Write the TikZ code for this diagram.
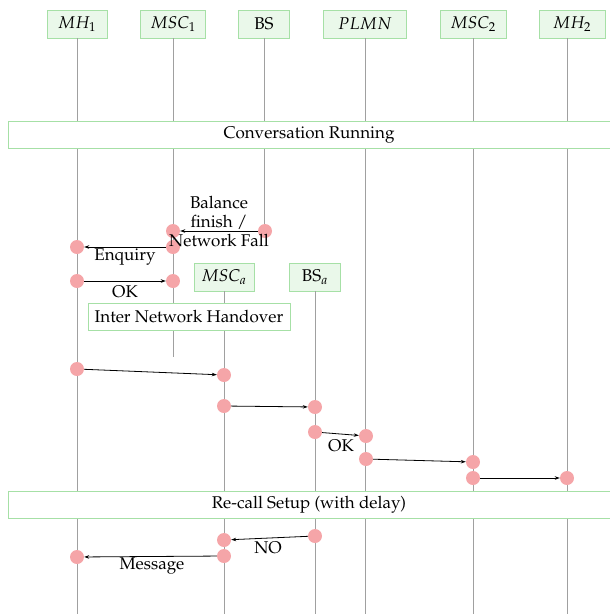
\documentclass[tikz,border=0pt]{standalone}
\usepackage[T1]{fontenc}
\usepackage{mathpazo}
\usetikzlibrary{arrows.meta,positioning}
\definecolor{sq-green}{HTML}{A6E0A6}
\definecolor{sq-fill}{HTML}{EAF8EA}
\definecolor{sq-grey}{HTML}{A0A0A0}
\definecolor{sq-dot}{HTML}{F5A5A8}

\begin{document}
\begin{tikzpicture}[x=1pt,y=-1pt,font=\fontsize{17}{19}\selectfont,
  actor/.style={draw=sq-green,fill=sq-fill,line width=0.7pt,minimum height=28pt,inner sep=2pt},
  phase/.style={draw=sq-green,fill=white,line width=0.7pt,minimum height=27pt,inner sep=2pt},
  life/.style={sq-grey,line width=0.8pt},
  evt/.style={circle,fill=sq-dot,inner sep=0pt,minimum size=14pt},
  msg/.style={-{Stealth[length=5pt,width=3.5pt]},line width=0.8pt},
  lbl/.style={inner sep=1pt}]

\useasboundingbox (0,0) rectangle (610,614);

% ============ entities ============
\node[actor,minimum width=60pt] (mh1)  at (77,24)  {$MH_1$};
\node[actor,minimum width=65pt] (msc1) at (173,24) {$MSC_1$};
\node[actor,minimum width=51pt] (bs)   at (264,24) {BS};
\node[actor,minimum width=83pt] (plmn) at (365,24) {$PLMN$};
\node[actor,minimum width=66pt] (msc2) at (473,24) {$MSC_2$};
\node[actor,minimum width=66pt] (mh2)  at (572,24) {$MH_2$};

\coordinate (mh2top) at (567,38);

% lifelines
\draw[life] (mh1.south)  -- (mh1.south |- 0,614);
\draw[life] (msc1.south) -- (msc1.south |- 0,357);
\draw[life] (bs.south)   -- (bs.south |- 0,231);
\draw[life] (plmn.south) -- (plmn.south |- 0,614);
\draw[life] (msc2.south) -- (msc2.south |- 0,614);
\draw[life] (mh2top)     -- (mh2top |- 0,614);

% ============ phases ============
\node[phase,minimum width=602pt] (talk) at (309,135) {Conversation Running};

% handover entities
\node[actor,minimum width=60pt] (msca) at (224,277) {$MSC_a$};
\node[actor,minimum width=51pt] (bsa)  at (315,277) {BS$_a$};
\draw[life] (msca.south) -- (msca.south |- 0,614);
\draw[life] (bsa.south)  -- (bsa.south |- 0,614);

\node[phase,minimum width=202pt] (inh) at (189,317) {Inter Network Handover};
\node[phase,minimum width=602pt] (recall) at (309,505) {Re-call Setup (with delay)};

% ============ events ============
\node[evt] (e1)  at (265,231) {};
\node[evt] (e2)  at (173,231) {};
\node[evt] (e3)  at (173,247) {};
\node[evt] (e4)  at (77,247)  {};
\node[evt] (e5)  at (77,281)  {};
\node[evt] (e6)  at (173,281) {};
\node[evt] (e7)  at (77,369)  {};
\node[evt] (e8)  at (224,375) {};
\node[evt] (e9)  at (224,406) {};
\node[evt] (e10) at (315,407) {};
\node[evt] (e11) at (315,432) {};
\node[evt] (e12) at (366,436) {};
\node[evt] (e13) at (366,459) {};
\node[evt] (e14) at (473,462) {};
\node[evt] (e15) at (473,478) {};
\node[evt] (e16) at (567,478) {};
\node[evt] (e17) at (315,536) {};
\node[evt] (e18) at (224,540) {};
\node[evt] (e19) at (224,556) {};
\node[evt] (e20) at (77,557)  {};

% messages
\draw[msg] (e1)  -- (e2);
\draw[msg] (e3)  -- (e4);
\draw[msg] (e5)  -- (e6);
\draw[msg] (e7)  -- (e8);
\draw[msg] (e9)  -- (e10);
\draw[msg] (e11) -- (e12);
\draw[msg] (e13) -- (e14);
\draw[msg] (e15) -- (e16);
\draw[msg] (e17) -- (e18);
\draw[msg] (e19) -- (e20);

% labels
\node[lbl,align=center] (fall) at (219,222) {Balance\\finish /\\Network Fall};
\node[lbl] (enq)  at (125,257) {Enquiry};
\node[lbl] (ok1)  at (125,292) {OK};
\node[lbl] (ok2)  at (341,446) {OK};
\node[lbl] (no)   at (268,548) {NO};
\node[lbl] (mess) at (152,566) {Message};

\end{tikzpicture}
\end{document}
